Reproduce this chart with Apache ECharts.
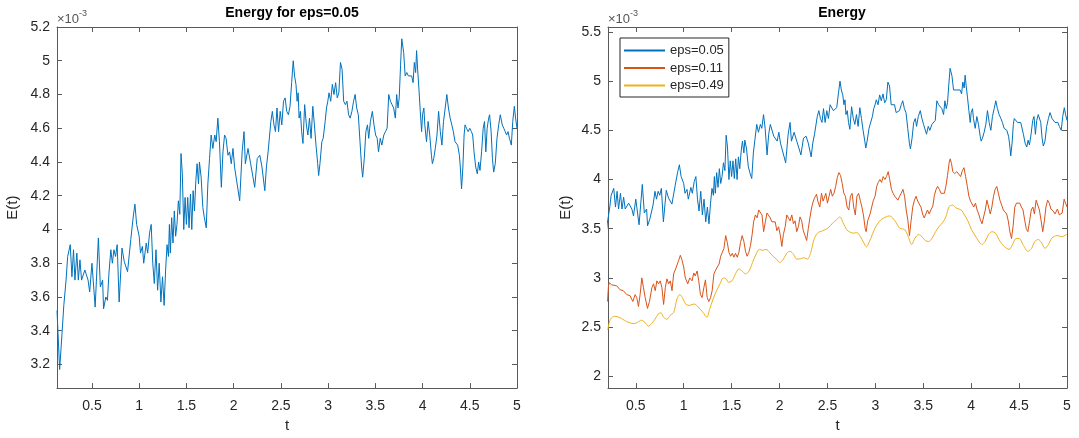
<!DOCTYPE html>
<html>
<head>
<meta charset="utf-8">
<script src="https://cdn.jsdelivr.net/npm/echarts@6/dist/echarts.min.js"></script>
<style>
html,body{margin:0;padding:0;background:#fff;}
#c{width:1079px;height:438px;}
</style>
</head>
<body>
<div id="c"></div>
<script>
// Values in units of 1e-3 (axis shows x10^-3)
const blueT = [0.13,0.158,0.185,0.202,0.226,0.243,0.27,0.288,0.305,0.32,0.34,0.356,0.373,0.39,0.425,0.459,0.476,0.50,0.534,0.568,0.589,0.613,0.623,0.647,0.664,0.68,0.70,0.716,0.733,0.75,0.767,0.788,0.818,0.842,0.877,0.911,0.938,0.955,0.973,1.0,1.014,1.034,1.048,1.075,1.09,1.11,1.127,1.144,1.16,1.178,1.195,1.212,1.23,1.247,1.264,1.28,1.295,1.31,1.32,1.33,1.344,1.358,1.372,1.386,1.40,1.415,1.43,1.443,1.457,1.472,1.486,1.50,1.514,1.528,1.543,1.557,1.571,1.585,1.60,1.613,1.628,1.638,1.656,1.674,1.69,1.71,1.727,1.745,1.762,1.78,1.80,1.815,1.833,1.85,1.87,1.887,1.904,1.92,1.94,1.957,1.975,1.993,2.01,2.03,2.064,2.09,2.11,2.124,2.152,2.18,2.205,2.223,2.25,2.277,2.30,2.33,2.347,2.365,2.394,2.41,2.427,2.443,2.459,2.476,2.493,2.51,2.528,2.545,2.562,2.58,2.597,2.614,2.631,2.645,2.66,2.672,2.683,2.693,2.707,2.72,2.734,2.752,2.77,2.786,2.803,2.82,2.838,2.855,2.872,2.89,2.90,2.914,2.934,2.948,2.969,2.983,2.997,3.01,3.028,3.045,3.062,3.08,3.097,3.114,3.131,3.148,3.165,3.183,3.20,3.217,3.234,3.252,3.27,3.286,3.303,3.32,3.338,3.355,3.366,3.383,3.40,3.417,3.43,3.448,3.469,3.486,3.503,3.52,3.534,3.552,3.569,3.59,3.608,3.625,3.642,3.66,3.677,3.694,3.712,3.726,3.74,3.753,3.767,3.78,3.79,3.80,3.816,3.833,3.85,3.868,3.885,3.90,3.913,3.927,3.937,3.948,3.962,3.976,3.99,4.0,4.014,4.024,4.042,4.059,4.076,4.094,4.104,4.118,4.135,4.153,4.17,4.188,4.205,4.222,4.24,4.257,4.274,4.292,4.31,4.326,4.344,4.358,4.372,4.39,4.40,4.413,4.427,4.44,4.45,4.465,4.483,4.50,4.517,4.531,4.545,4.563,4.58,4.594,4.608,4.625,4.642,4.656,4.67,4.684,4.70,4.71,4.726,4.74,4.753,4.77,4.788,4.806,4.823,4.844,4.86,4.875,4.89,4.905,4.92,4.94,4.955,4.972,4.985,5.0];
const blueE = [3.52,3.17,3.40,3.55,3.70,3.84,3.91,3.72,3.88,3.70,3.86,3.70,3.82,3.70,3.76,3.70,3.63,3.80,3.54,3.95,3.66,3.70,3.53,3.60,3.58,3.74,3.88,3.80,3.88,3.84,3.91,3.57,3.89,3.81,3.75,3.94,4.08,4.15,4.03,3.96,3.86,3.90,3.80,3.92,3.86,3.98,4.03,3.80,3.68,3.88,3.64,3.80,3.57,3.72,3.55,3.76,3.91,3.84,4.03,3.86,4.07,3.92,4.11,3.96,4.03,4.17,4.09,4.45,4.33,4.00,4.19,4.03,4.19,4.01,4.21,4.00,4.23,4.11,4.29,4.39,4.27,4.40,4.31,4.13,4.07,4.01,4.27,4.42,4.56,4.48,4.56,4.52,4.66,4.52,4.25,4.46,4.56,4.54,4.44,4.46,4.39,4.48,4.37,4.38,4.17,4.46,4.58,4.39,4.48,4.39,4.31,4.25,4.42,4.44,4.37,4.23,4.37,4.46,4.64,4.70,4.62,4.58,4.72,4.58,4.70,4.62,4.76,4.78,4.70,4.68,4.73,4.87,5.00,4.91,4.86,4.76,4.81,4.66,4.70,4.58,4.51,4.74,4.62,4.56,4.66,4.54,4.73,4.62,4.50,4.39,4.32,4.39,4.52,4.54,4.64,4.72,4.76,4.81,4.76,4.86,4.80,4.87,4.78,4.81,4.99,4.95,4.76,4.74,4.76,4.68,4.66,4.70,4.76,4.80,4.72,4.68,4.52,4.37,4.31,4.42,4.58,4.62,4.54,4.64,4.70,4.62,4.56,4.54,4.46,4.54,4.50,4.56,4.58,4.60,4.80,4.76,4.74,4.72,4.66,4.80,4.72,4.78,4.97,5.13,5.14,5.05,4.91,4.93,4.91,4.92,4.91,4.87,4.99,4.93,5.06,4.95,4.83,4.70,4.58,4.68,4.72,4.62,4.52,4.64,4.56,4.44,4.39,4.42,4.48,4.56,4.70,4.58,4.50,4.64,4.72,4.80,4.72,4.66,4.62,4.58,4.52,4.53,4.50,4.44,4.37,4.24,4.37,4.56,4.62,4.60,4.58,4.60,4.58,4.56,4.46,4.37,4.33,4.40,4.35,4.46,4.60,4.64,4.46,4.60,4.66,4.68,4.58,4.42,4.34,4.39,4.54,4.62,4.68,4.62,4.60,4.58,4.56,4.58,4.54,4.50,4.64,4.73,4.66,4.60];

const redT = [0.205,0.215,0.224,0.248,0.266,0.30,0.336,0.37,0.406,0.44,0.469,0.493,0.51,0.528,0.545,0.563,0.58,0.598,0.622,0.643,0.668,0.685,0.703,0.72,0.738,0.755,0.773,0.79,0.808,0.825,0.843,0.86,0.878,0.895,0.923,0.948,0.965,0.983,1.0,1.017,1.042,1.063,1.087,1.105,1.12,1.14,1.157,1.175,1.192,1.21,1.227,1.245,1.262,1.28,1.297,1.315,1.334,1.35,1.369,1.386,1.403,1.42,1.438,1.455,1.472,1.49,1.507,1.524,1.54,1.559,1.576,1.593,1.61,1.628,1.645,1.662,1.68,1.697,1.714,1.73,1.748,1.766,1.783,1.80,1.817,1.834,1.852,1.869,1.886,1.903,1.92,1.938,1.955,1.972,1.99,2.007,2.024,2.04,2.059,2.076,2.093,2.11,2.128,2.145,2.162,2.18,2.197,2.214,2.231,2.248,2.266,2.283,2.30,2.317,2.334,2.352,2.369,2.386,2.40,2.42,2.438,2.455,2.466,2.483,2.50,2.517,2.534,2.551,2.568,2.586,2.603,2.62,2.637,2.654,2.671,2.688,2.705,2.723,2.74,2.757,2.774,2.791,2.808,2.825,2.842,2.86,2.877,2.894,2.904,2.92,2.945,2.962,2.98,2.997,3.014,3.03,3.048,3.065,3.082,3.10,3.116,3.134,3.15,3.168,3.185,3.202,3.219,3.236,3.253,3.27,3.288,3.305,3.322,3.34,3.356,3.373,3.39,3.408,3.425,3.442,3.459,3.476,3.493,3.51,3.527,3.544,3.562,3.579,3.60,3.616,3.634,3.65,3.668,3.685,3.702,3.72,3.736,3.753,3.77,3.781,3.795,3.808,3.829,3.85,3.87,3.89,3.908,3.925,3.942,3.96,3.976,3.993,4.01,4.027,4.045,4.062,4.079,4.096,4.113,4.13,4.147,4.164,4.182,4.199,4.216,4.233,4.25,4.267,4.284,4.30,4.318,4.336,4.353,4.37,4.387,4.404,4.421,4.438,4.455,4.473,4.49,4.507,4.524,4.541,4.558,4.575,4.592,4.61,4.627,4.644,4.66,4.678,4.695,4.712,4.73,4.747,4.764,4.78,4.798,4.815,4.832,4.856,4.875,4.9,4.92,4.95,4.97,4.985,5.0];
const redE = [2.76,2.92,2.95,2.93,2.95,2.92,2.88,2.87,2.83,2.82,2.76,2.83,2.80,2.71,2.83,3.00,2.90,2.80,2.69,2.76,2.90,2.94,2.87,2.97,2.94,2.97,2.90,2.73,2.90,2.99,2.94,2.97,2.87,3.04,3.11,3.18,3.23,3.18,3.11,3.0,2.94,3.0,2.97,3.05,3.02,3.07,2.97,2.83,2.80,2.90,2.98,2.80,2.76,2.80,2.87,3.04,3.08,3.11,3.14,3.22,3.20,3.30,3.43,3.36,3.26,3.22,3.25,3.21,3.25,3.21,3.26,3.36,3.43,3.37,3.27,3.22,3.26,3.33,3.44,3.57,3.64,3.61,3.69,3.68,3.64,3.47,3.57,3.66,3.64,3.61,3.57,3.55,3.57,3.48,3.52,3.44,3.32,3.44,3.52,3.64,3.66,3.58,3.64,3.55,3.58,3.47,3.52,3.62,3.58,3.48,3.43,3.38,3.50,3.61,3.71,3.78,3.82,3.85,3.78,3.72,3.86,3.78,3.76,3.86,3.76,3.83,3.90,3.83,3.86,3.93,4.02,4.07,4.04,3.96,3.86,3.83,3.72,3.69,3.83,3.86,3.72,3.64,3.83,3.86,3.79,3.72,3.63,3.50,3.47,3.58,3.65,3.72,3.79,3.83,3.93,3.97,4.00,3.97,4.03,4.00,4.03,4.08,4.00,3.90,3.86,3.83,3.85,3.79,3.83,3.86,3.90,3.83,3.69,3.58,3.43,3.58,3.72,3.79,3.83,3.78,3.79,3.72,3.65,3.61,3.65,3.69,3.65,3.69,3.73,3.84,3.90,3.93,3.90,3.86,3.88,3.86,3.93,4.04,4.17,4.21,4.16,4.08,4.06,4.08,4.06,4.03,4.09,4.12,4.03,3.93,3.83,3.78,3.79,3.72,3.76,3.69,3.65,3.59,3.55,3.62,3.69,3.79,3.72,3.65,3.72,3.83,3.90,3.93,3.86,3.79,3.74,3.69,3.67,3.65,3.58,3.47,3.40,3.53,3.72,3.76,3.74,3.76,3.72,3.69,3.59,3.50,3.47,3.58,3.69,3.72,3.65,3.79,3.81,3.69,3.58,3.47,3.58,3.72,3.79,3.76,3.70,3.68,3.65,3.70,3.64,3.66,3.80,3.76,3.72];

const yellowT = [0.207,0.236,0.28,0.325,0.38,0.43,0.486,0.52,0.557,0.593,0.63,0.664,0.70,0.736,0.764,0.79,0.825,0.86,0.896,0.93,0.96,0.986,1.02,1.057,1.11,1.146,1.2,1.243,1.27,1.307,1.343,1.379,1.414,1.443,1.468,1.504,1.54,1.575,1.61,1.646,1.682,1.718,1.754,1.79,1.825,1.86,1.896,1.932,1.968,2.0,2.04,2.075,2.11,2.146,2.18,2.218,2.254,2.29,2.325,2.36,2.396,2.45,2.504,2.557,2.593,2.63,2.664,2.70,2.736,2.77,2.807,2.843,2.88,2.907,2.932,2.968,3.004,3.057,3.11,3.146,3.18,3.218,3.254,3.307,3.343,3.379,3.414,3.45,3.486,3.52,3.557,3.593,3.629,3.664,3.70,3.736,3.77,3.807,3.843,3.896,3.93,3.968,4.004,4.057,4.11,4.146,4.18,4.218,4.254,4.29,4.343,4.396,4.432,4.468,4.504,4.54,4.593,4.63,4.664,4.70,4.736,4.77,4.807,4.843,4.896,4.95,5.0];
const yellowE = [2.47,2.58,2.61,2.60,2.57,2.545,2.535,2.55,2.57,2.55,2.51,2.535,2.58,2.635,2.645,2.60,2.58,2.62,2.65,2.785,2.83,2.80,2.735,2.72,2.735,2.71,2.65,2.60,2.68,2.785,2.87,2.94,3.0,2.99,2.955,2.97,3.04,3.09,3.07,3.04,3.07,3.155,3.24,3.29,3.28,3.29,3.26,3.22,3.19,3.155,3.19,3.25,3.27,3.24,3.19,3.195,3.205,3.19,3.255,3.39,3.455,3.48,3.505,3.56,3.59,3.62,3.56,3.49,3.465,3.455,3.46,3.42,3.356,3.315,3.356,3.44,3.52,3.59,3.62,3.63,3.61,3.56,3.505,3.49,3.42,3.34,3.405,3.44,3.42,3.38,3.37,3.405,3.47,3.52,3.56,3.62,3.725,3.74,3.71,3.69,3.64,3.575,3.49,3.405,3.34,3.37,3.44,3.47,3.455,3.39,3.32,3.29,3.34,3.40,3.40,3.34,3.27,3.30,3.37,3.39,3.356,3.30,3.34,3.405,3.43,3.42,3.445];

const leftTitle = 'Energy for eps=0.05';
const rightTitle = 'Energy';
const legendNames = ['eps=0.05', 'eps=0.11', 'eps=0.49'];

const pairs = (ts, vs) => ts.map((t, i) => [t, vs[i]]);
const fmt = step => v => {
  const k = v / step;
  return Math.abs(k - Math.round(k)) < 1e-6 ? String(+v.toFixed(3)) : '';
};

const AX = '#5a5a5a';
const TXT = '#262626';
const FONT = 'Liberation Sans, Arial, sans-serif';

function xAx(grid, min, max, pos) {
  const main = pos === 'bottom';
  return {
    type: 'value', gridIndex: grid, position: pos, min: min, max: max, splitNumber: 10,
    axisLine: {show: true, onZero: false, lineStyle: {color: AX, width: 1}},
    axisTick: {show: true, inside: true, length: 5, lineStyle: {color: AX}},
    axisLabel: {show: main, margin: 11, color: TXT, fontSize: 14, fontFamily: FONT, formatter: fmt(0.5)},
    splitLine: {show: false},
    name: main ? 't' : '', nameLocation: 'middle', nameGap: 28,
    nameTextStyle: {color: TXT, fontSize: 15, fontFamily: FONT}
  };
}
function yAx(grid, min, max, pos, split, step, gap) {
  const main = pos === 'left';
  return {
    type: 'value', gridIndex: grid, position: pos, min: min, max: max, splitNumber: split,
    axisLine: {show: true, onZero: false, lineStyle: {color: AX, width: 1}},
    axisTick: {show: true, inside: true, length: 5, lineStyle: {color: AX}},
    axisLabel: {show: main, margin: 7, color: TXT, fontSize: 14, fontFamily: FONT, formatter: fmt(step)},
    splitLine: {show: false},
    name: main ? 'E(t)' : '', nameLocation: 'middle', nameGap: gap,
    nameTextStyle: {color: TXT, fontSize: 15, fontFamily: FONT}
  };
}

const chart = echarts.init(document.getElementById('c'), null, {renderer: 'canvas'});
const expo = (x) => ({
  type: 'text', left: x, top: 9,
  style: {
    text: '{a|×10}{b|-3}',
    rich: {
      a: {fontSize: 13, fontFamily: FONT, fill: '#555', verticalAlign: 'bottom'},
      b: {fontSize: 9, fontFamily: FONT, fill: '#555', verticalAlign: 'top', padding: [0, 0, 8, 0]}
    }
  }
});

chart.setOption({
  animation: false,
  backgroundColor: '#fff',
  title: [
    {text: leftTitle, left: 287, top: 1, textAlign: 'center',
     textStyle: {fontSize: 14, fontWeight: 'bold', color: '#000', fontFamily: FONT}},
    {text: rightTitle, left: 837, top: 1, textAlign: 'center',
     textStyle: {fontSize: 14, fontWeight: 'bold', color: '#000', fontFamily: FONT}}
  ],
  grid: [
    {left: 57, top: 27, width: 460, height: 367},
    {left: 608, top: 27, width: 459, height: 367}
  ],
  xAxis: [
    xAx(0, 0.13, 5, 'bottom'), xAx(0, 0.13, 5, 'top'),
    xAx(1, 0.21, 5, 'bottom'), xAx(1, 0.21, 5, 'top')
  ],
  yAxis: [
    yAx(0, 3.06, 5.2, 'left', 10, 0.2, 37), yAx(0, 3.06, 5.2, 'right', 10, 0.2, 0),
    yAx(1, 1.88, 5.55, 'left', 7, 0.5, 35), yAx(1, 1.88, 5.55, 'right', 7, 0.5, 0)
  ],
  legend: {
    data: legendNames, orient: 'vertical', left: 620, top: 38,
    itemWidth: 41, itemHeight: 13, itemGap: 4.5,
    padding: [6, 5, 5, 3],
    itemStyle: {opacity: 0},
    borderColor: '#262626', borderWidth: 1, backgroundColor: '#fff',
    textStyle: {fontSize: 13, color: TXT, fontFamily: FONT}
  },
  graphic: [expo(57), expo(608)],
  series: [
    {name: 'E', type: 'line', xAxisIndex: 0, yAxisIndex: 0, data: pairs(blueT, blueE),
     symbol: 'none', lineStyle: {color: '#0072BD', width: 1}, itemStyle: {color: '#0072BD'}, clip: true},
    {name: legendNames[0], type: 'line', xAxisIndex: 2, yAxisIndex: 2, data: pairs(blueT, blueE),
     symbol: 'none', lineStyle: {color: '#0072BD', width: 1}, itemStyle: {color: '#0072BD'}, clip: true},
    {name: legendNames[1], type: 'line', xAxisIndex: 2, yAxisIndex: 2, data: pairs(redT, redE),
     symbol: 'none', lineStyle: {color: '#D95319', width: 1}, itemStyle: {color: '#D95319'}, clip: true},
    {name: legendNames[2], type: 'line', xAxisIndex: 2, yAxisIndex: 2, data: pairs(yellowT, yellowE),
     symbol: 'none', smooth: 0.3, lineStyle: {color: '#EDB120', width: 1}, itemStyle: {color: '#EDB120'}, clip: true}
  ]
});
</script>
</body>
</html>
